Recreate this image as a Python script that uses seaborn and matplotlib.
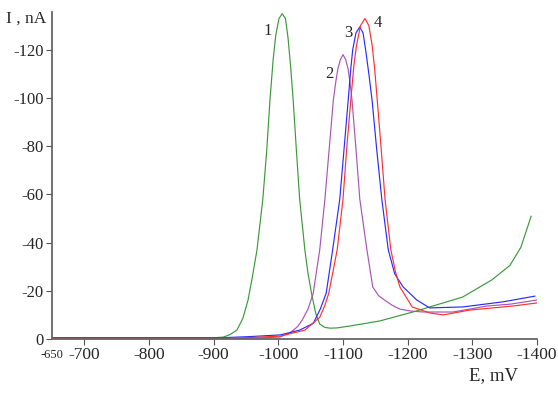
import numpy as np
import pandas as pd
import matplotlib
matplotlib.use('Agg')
import matplotlib.pyplot as plt
import seaborn as sns

# potentials are stored as magnitudes (mV), currents as magnitudes (nA)
e1 = [650, 800, 900, 915, 925, 936, 945, 953, 960, 967, 976, 982, 987, 992, 996, 1001, 1006,
      1011, 1015, 1019, 1023, 1028, 1033, 1041, 1046, 1052, 1058, 1064, 1072, 1080, 1091,
      1120, 1157, 1208, 1234, 1285, 1330, 1358, 1375, 1391]
i1 = [0.5, 0.5, 0.5, 0.8, 1.8, 3.7, 8.5, 16, 26, 37, 58, 78, 99, 116, 126, 133, 135,
      133, 125, 113, 99, 78, 58, 37, 27, 18, 10.5, 6.2, 4.8, 4.5, 4.6,
      5.8, 7.5, 11.2, 13.3, 17.4, 24.5, 30.5, 38, 51]

e2 = [650, 800, 956, 1002, 1018, 1030, 1037, 1046, 1054, 1064, 1072, 1079, 1085, 1089, 1092, 1096,
      1100, 1104, 1108, 1111, 1114, 1120, 1126, 1137, 1146, 1155, 1165, 1176, 1188, 1205, 1224,
      1270, 1323, 1360, 1400]
i2 = [0.3, 0.3, 0.3, 0.8, 2.5, 5.2, 7.9, 12.5, 19, 37, 58, 80, 99, 107, 112, 116,
      118, 116, 112, 106, 99, 79, 58, 37, 21.6, 18, 16, 14, 12.4, 11.6, 11.2,
      11.2, 13.7, 14.5, 16.2]

e3 = [650, 800, 910, 956, 1003, 1033, 1054, 1065, 1074, 1084, 1095, 1102, 1108, 1112, 1115, 1120,
      1126, 1131, 1135, 1140, 1145, 1152, 1160, 1170, 1180, 1193, 1214, 1234, 1285, 1347, 1397]
i3 = [0.5, 0.5, 0.5, 1.0, 1.7, 3.7, 6.5, 12.5, 19, 37, 58, 80, 99, 112, 120, 127,
      129.5, 127, 120, 110, 99, 79, 58, 37, 27, 21.6, 16.2, 12.9, 13.3, 15.4, 17.8]

e4 = [650, 800, 910, 956, 1003, 1041, 1064, 1072, 1078, 1091, 1100, 1106, 1112, 1117, 1121, 1127,
      1134, 1140, 1145, 1149, 1153, 1159, 1165, 1174, 1181, 1188, 1207, 1234, 1255, 1296, 1363, 1401]
i4 = [0.3, 0.3, 0.3, 0.6, 1.2, 3.7, 9, 14, 19, 37, 58, 80, 99, 114, 122, 130,
      133, 130, 122, 112, 99, 79, 58, 37, 28, 21.6, 13.3, 10.8, 10, 12, 13.7, 15]

curve_names = ['1', '2', '3', '4']
curve_colors = ['#3a9a3a', '#a855b5', '#2b2bff', '#ff3030']
x_ticks = [700, 800, 900, 1000, 1100, 1200, 1300, 1400]
y_ticks = [0, 20, 40, 60, 80, 100, 120]

sns.set_style('white')
plt.rcParams['font.family'] = ['Liberation Serif', 'DejaVu Serif']

fig = plt.figure(figsize=(5.58, 3.94), dpi=100)
ax = fig.add_axes([52 / 558, 55 / 394, 485 / 558, 327 / 394])

for name, e, i, c in zip(curve_names, [e1, e2, e3, e4], [i1, i2, i3, i4], curve_colors):
    df = pd.DataFrame({'E': e, 'I': i})
    sns.lineplot(data=df, x='E', y='I', color=c, linewidth=0.85, sort=False, ax=ax)

ax.set_xlim(650, 1400)
ax.set_ylim(0, 135.7)
ax.set_xticks(x_ticks)
ax.set_xticklabels(['-%d' % v for v in x_ticks], fontsize=12.5)
ax.set_yticks(y_ticks)
ax.set_yticklabels(['0'] + ['-%d' % v for v in y_ticks[1:]], fontsize=12)
ax.tick_params(axis='both', direction='out', length=4, width=0.8, color='#555555', pad=2,
               left=True, bottom=True)
ax.set_xlabel('')
ax.set_ylabel('')
sns.despine(ax=ax)
for s in ['left', 'bottom']:
    ax.spines[s].set_color('#666666')
    ax.spines[s].set_linewidth(1.3)

ax.text(650, -4.2, '-650', fontsize=9, ha='center', va='top')
fig.text(6 / 558, 1 - 19 / 394, 'I , nA', fontsize=12.5, va='center')
fig.text(469 / 558, 1 - 376 / 394, 'E, mV', fontsize=13.5, va='center')

# curve numbers
ax.text(983, 128, '1', fontsize=12, ha='center', va='center')
ax.text(1079, 110, '2', fontsize=12, ha='center', va='center')
ax.text(1108, 127, '3', fontsize=12, ha='center', va='center')
ax.text(1154, 131, '4', fontsize=12, ha='center', va='center')

fig.savefig('out.png', dpi=100)
